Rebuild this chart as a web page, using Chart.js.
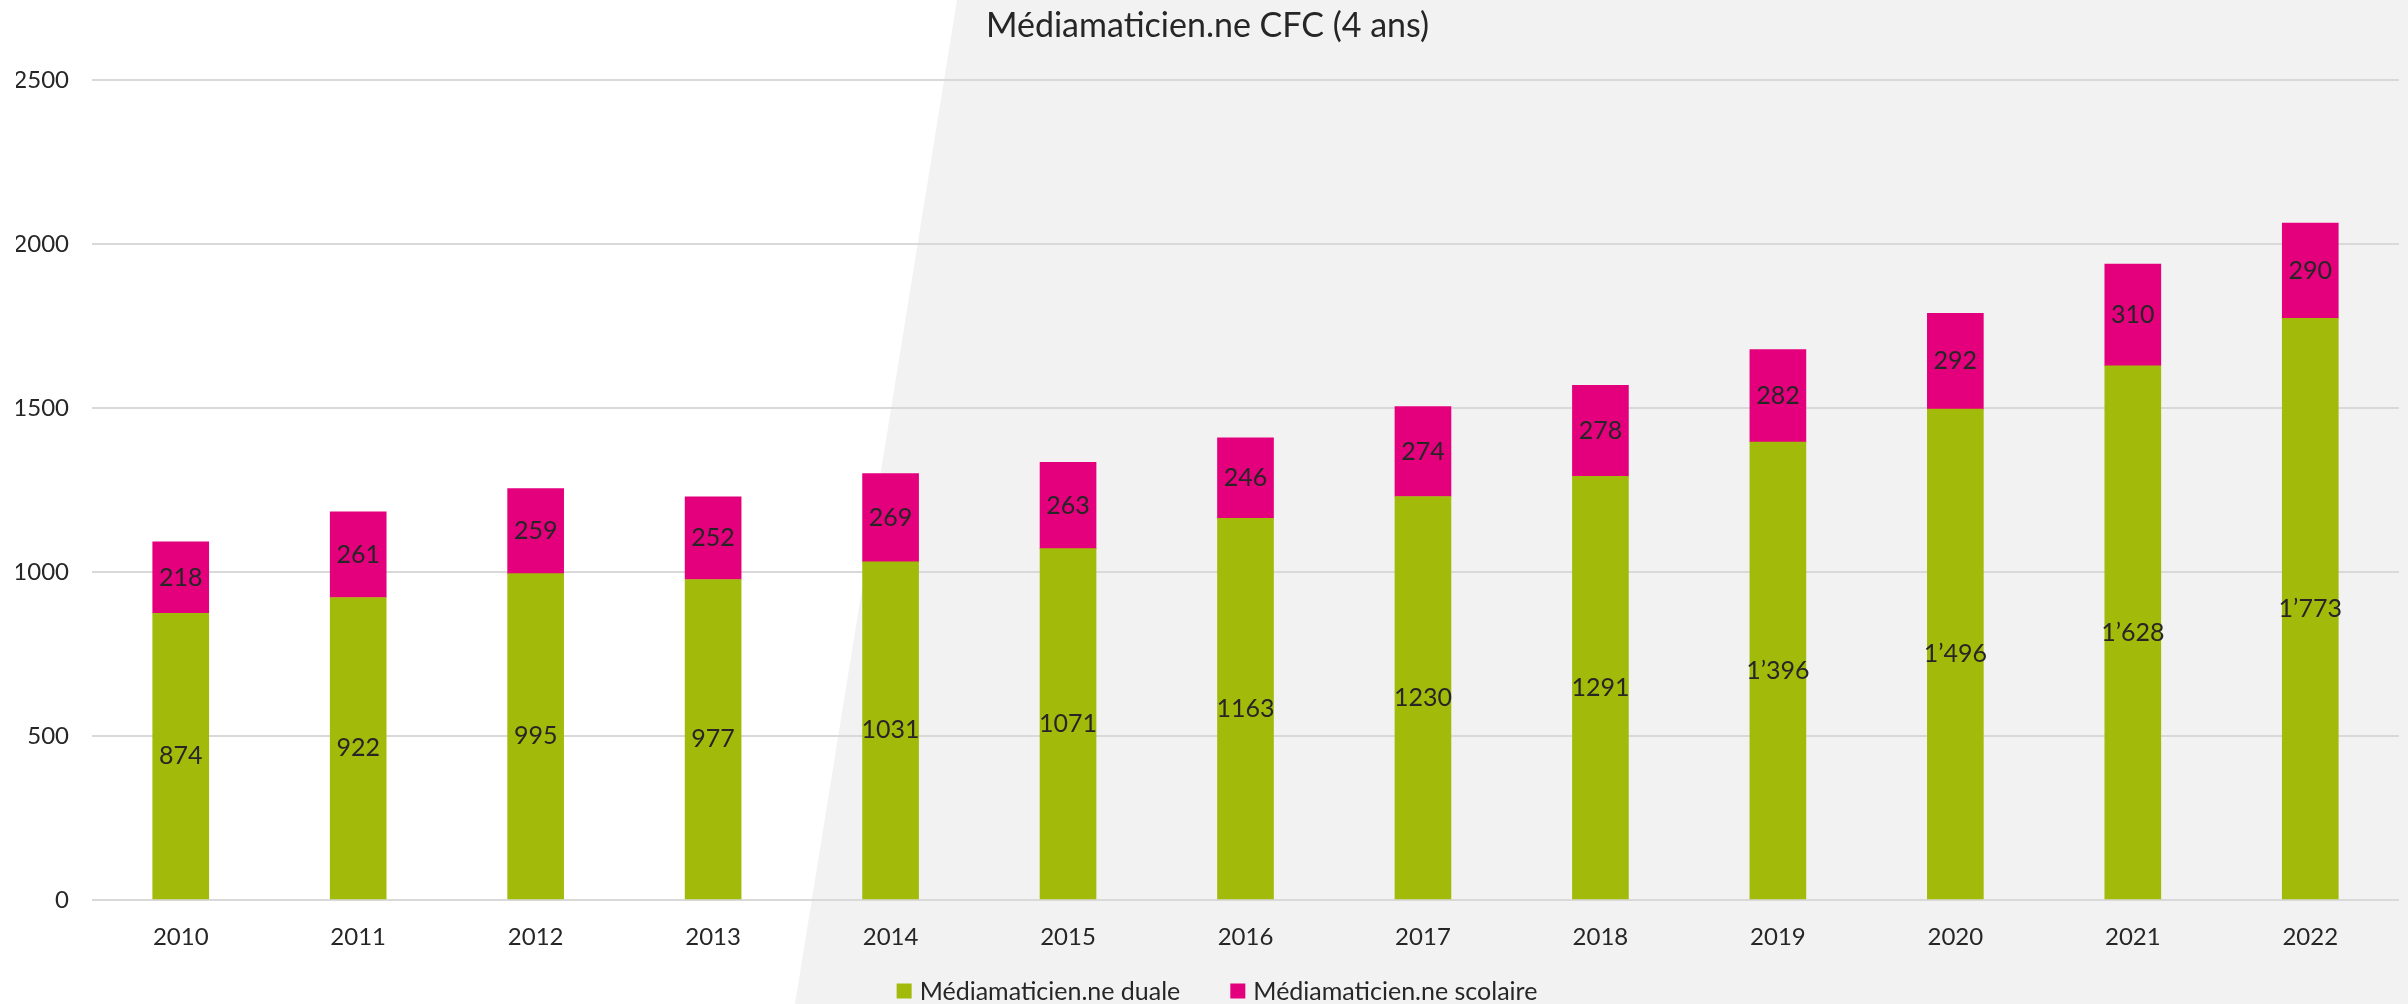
<!DOCTYPE html>
<html>
<head>
<meta charset="utf-8">
<script src="https://cdn.jsdelivr.net/npm/chart.js@4/dist/chart.umd.min.js"></script>
<style>
html,body{margin:0;padding:0;background:#fff;}
#wrap{width:2408px;height:1004px;position:relative;}
</style>
</head>
<body>
<div id="wrap"><canvas id="c" width="2408" height="1004"></canvas></div>
<script>
const categories = ['2010','2011','2012','2013','2014','2015','2016','2017','2018','2019','2020','2021','2022'];
const dualeValues = [874, 922, 995, 977, 1031, 1071, 1163, 1230, 1291, 1396, 1496, 1628, 1773];
const scolaireValues = [218, 261, 259, 252, 269, 263, 246, 274, 278, 282, 292, 310, 290];
const dualeLabels = ['874','922','995','977','1031','1071','1163','1230','1291','1\u2019396','1\u2019496','1\u2019628','1\u2019773'];
const scolaireLabels = ['218','261','259','252','269','263','246','274','278','282','292','310','290'];
const yTicks = [0, 500, 1000, 1500, 2000, 2500];
const seriesNames = ['Médiamaticien.ne duale', 'Médiamaticien.ne scolaire'];
const titleText = 'Médiamaticien.ne CFC (4 ans)';

const GREEN = '#A2BB0A';
const PINK = '#E4007C';
const FONT = 'Lato, "Open Sans", sans-serif';
const TEXT = '#262626';

const bgPlugin = {
  id: 'bgShape',
  beforeDraw(chart) {
    const ctx = chart.ctx;
    ctx.save();
    ctx.fillStyle = '#ffffff';
    ctx.fillRect(0, 0, chart.width, chart.height);
    ctx.fillStyle = '#F2F2F2';
    ctx.beginPath();
    ctx.moveTo(957, 0);
    ctx.lineTo(chart.width, 0);
    ctx.lineTo(chart.width, chart.height);
    ctx.lineTo(795, chart.height);
    ctx.closePath();
    ctx.fill();
    ctx.restore();
  }
};

const labelPlugin = {
  id: 'barLabels',
  afterDatasetsDraw(chart) {
    const ctx = chart.ctx;
    const labelSets = [dualeLabels, scolaireLabels];
    ctx.save();
    ctx.font = '25px ' + FONT;
    ctx.fillStyle = TEXT;
    ctx.textAlign = 'center';
    ctx.textBaseline = 'middle';
    chart.data.datasets.forEach((ds, di) => {
      const meta = chart.getDatasetMeta(di);
      meta.data.forEach((el, i) => {
        const p = el.getProps(['x', 'y', 'base'], true);
        ctx.fillText(labelSets[di][i], p.x, (p.y + p.base) / 2);
      });
    });
    ctx.restore();
  }
};

const legendPlugin = {
  id: 'customLegend',
  afterDraw(chart) {
    const ctx = chart.ctx;
    ctx.save();
    ctx.font = '25px ' + FONT;
    ctx.textBaseline = 'middle';
    ctx.textAlign = 'left';
    const box = 15, gap = 8, itemGap = 50;
    const items = chart.data.datasets.map(d => ({ text: d.label, color: d.backgroundColor, w: ctx.measureText(d.label).width }));
    let total = 0;
    items.forEach((it, i) => { total += box + gap + it.w + (i < items.length - 1 ? itemGap : 0); });
    let x = 1217 - total / 2;
    const y = 991;
    items.forEach(it => {
      ctx.fillStyle = it.color;
      ctx.fillRect(x, y - box / 2, box, box);
      ctx.fillStyle = TEXT;
      ctx.fillText(it.text, x + box + gap, y + 1);
      x += box + gap + it.w + itemGap;
    });
    ctx.restore();
  }
};

new Chart(document.getElementById('c'), {
  type: 'bar',
  data: {
    labels: categories,
    datasets: [
      { label: seriesNames[0], data: dualeValues, backgroundColor: GREEN, borderWidth: 0 },
      { label: seriesNames[1], data: scolaireValues, backgroundColor: PINK, borderWidth: 0 }
    ]
  },
  plugins: [bgPlugin, labelPlugin, legendPlugin],
  options: {
    responsive: false,
    animation: false,
    devicePixelRatio: 1,
    layout: { padding: { top: 0, left: 16, right: 9, bottom: 0 } },
    plugins: {
      legend: { display: false },
      tooltip: { enabled: false },
      title: {
        display: true,
        text: titleText,
        color: TEXT,
        font: { family: FONT, size: 34, weight: 'normal' },
        padding: { top: 6, bottom: 33 }
      }
    },
    scales: {
      x: {
        stacked: true,
        grid: { display: false, drawTicks: false },
        border: { display: false },
        ticks: { color: TEXT, font: { family: FONT, size: 24 }, padding: 23, maxRotation: 0 },
        afterFit(scale) { scale.height = 104; }
      },
      y: {
        stacked: true,
        min: 0,
        max: 2500,
        afterBuildTicks(scale) { scale.ticks = yTicks.map(v => ({ value: v })); },
        grid: { color: '#D9D9D9', lineWidth: 2, drawTicks: false },
        border: { display: false },
        ticks: { color: TEXT, font: { family: FONT, size: 24 }, padding: 23, callback: v => String(v) },
        afterFit(scale) { scale.width = 76; }
      }
    },
    datasets: { bar: { barThickness: 56 } }
  }
});
</script>
</body>
</html>
